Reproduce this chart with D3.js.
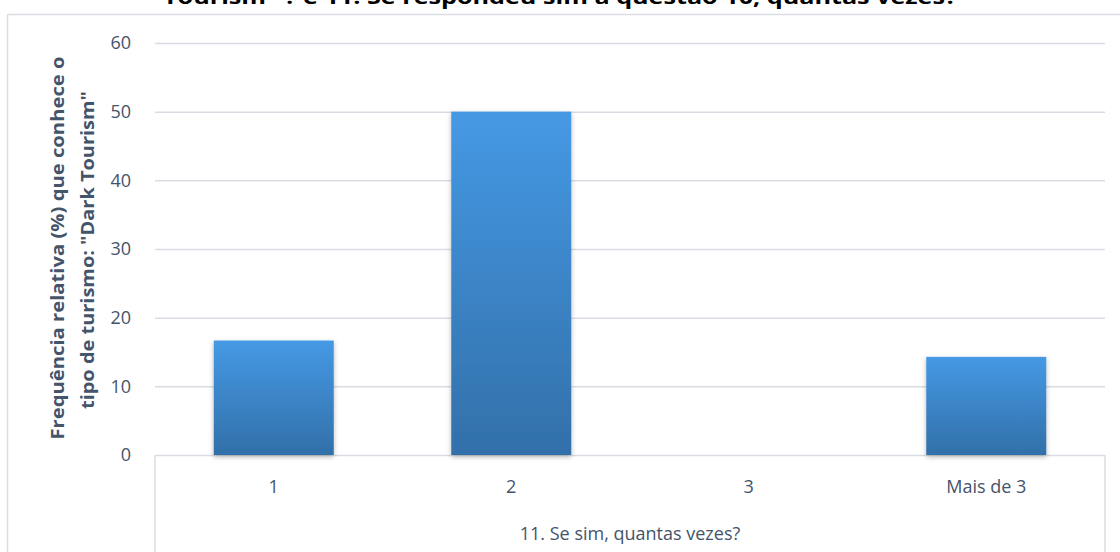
<!DOCTYPE html>
<html>
<head>
<meta charset="utf-8">
<script src="https://cdn.jsdelivr.net/npm/d3@7"></script>
<style>
  html, body { margin: 0; padding: 0; background: #fff; }
  svg { display: block; }
  text { font-family: "Open Sans", "Noto Sans", sans-serif; }
</style>
</head>
<body>
<svg id="chart" width="1120" height="552"></svg>
<script>
const categories = ["1", "2", "3", "Mais de 3"];
const values = [16.67, 50, 0, 14.29];
const yTicks = [0, 10, 20, 30, 40, 50, 60];
const titleText = 'Tourism" ?  e  11. Se respondeu sim à questão 10, quantas vezes?';
const yTitleLines = ['Frequência relativa (%) que  conhece o', 'tipo de turismo: "Dark Tourism"'];
const xGroupTitle = "11. Se sim, quantas vezes?";

const W = 1120, H = 552;
const plot = { left: 155, right: 1105, top: 43, bottom: 455 };
const svg = d3.select("#chart");

const defs = svg.append("defs");
const grad = defs.append("linearGradient").attr("id", "barGrad")
  .attr("x1", 0).attr("y1", 0).attr("x2", 0).attr("y2", 1);
grad.append("stop").attr("offset", "0%").attr("stop-color", "#4599e4");
grad.append("stop").attr("offset", "100%").attr("stop-color", "#3270a9");
const filt = defs.append("filter").attr("id", "shadow")
  .attr("x", "-10%").attr("y", "-10%").attr("width", "120%").attr("height", "125%");
filt.append("feDropShadow").attr("dx", 0).attr("dy", 2).attr("stdDeviation", 2.5)
  .attr("flood-color", "#000").attr("flood-opacity", 0.28);

// frame
const frameColor = "#d9dde3";
svg.append("line").attr("x1", 7.5).attr("x2", W).attr("y1", 14.5).attr("y2", 14.5)
  .attr("stroke", frameColor).attr("stroke-width", 1.5);
svg.append("line").attr("x1", 7.5).attr("x2", 7.5).attr("y1", 14.5).attr("y2", H)
  .attr("stroke", frameColor).attr("stroke-width", 1.5);

// title (visible last line)
svg.append("text").attr("x", 560).attr("y", 4)
  .attr("text-anchor", "middle").attr("font-weight", "bold").attr("font-size", 20)
  .attr("fill", "#000").attr("textLength", 794).attr("lengthAdjust", "spacingAndGlyphs")
  .text(titleText);

const y = d3.scaleLinear().domain([0, 60]).range([plot.bottom, plot.top]);
const x = d3.scaleBand().domain(categories).range([plot.left, plot.right])
  .paddingInner(1 - 120 / 237.5).paddingOuter((1 - 120 / 237.5) / 2);

const gridColor = "#d9dde3";
// gridlines + y tick labels via axis
const yAxis = d3.axisLeft(y).tickValues(yTicks).tickSize(-(plot.right - plot.left)).tickPadding(24)
  .tickFormat(d3.format("d"));
const gy = svg.append("g").attr("transform", `translate(${plot.left},0)`).call(yAxis);
gy.select(".domain").remove();
gy.selectAll(".tick line").attr("stroke", gridColor).attr("stroke-width", 1.5);
gy.selectAll(".tick text").attr("fill", "#44546a").attr("font-size", 18)
  .attr("font-family", '"Open Sans", sans-serif');

// x-axis table lines
svg.append("line").attr("x1", plot.left).attr("x2", plot.left).attr("y1", plot.bottom).attr("y2", H)
  .attr("stroke", gridColor).attr("stroke-width", 1.5);
svg.append("line").attr("x1", plot.right).attr("x2", plot.right).attr("y1", plot.bottom).attr("y2", H)
  .attr("stroke", gridColor).attr("stroke-width", 1.5);

// bars
svg.append("g").selectAll("rect").data(categories).join("rect")
  .attr("x", d => x(d))
  .attr("y", (d, i) => y(values[i]))
  .attr("width", x.bandwidth())
  .attr("height", (d, i) => y(0) - y(values[i]))
  .attr("fill", "url(#barGrad)")
  .attr("filter", (d, i) => values[i] > 0 ? "url(#shadow)" : null);

// category labels
const xAxis = d3.axisBottom(x).tickSize(0).tickPadding(0);
const gx = svg.append("g").attr("transform", `translate(0,${plot.bottom})`).call(xAxis);
gx.select(".domain").remove();
gx.selectAll(".tick text").attr("fill", "#44546a").attr("font-size", 18)
  .attr("font-family", '"Open Sans", sans-serif').attr("dy", null).attr("y", 38);

svg.append("text").attr("x", (plot.left + plot.right) / 2).attr("y", 540)
  .attr("text-anchor", "middle").attr("font-size", 18).attr("fill", "#44546a")
  .text(xGroupTitle);

// y title
const yt = svg.append("g").attr("transform", "translate(0,248) rotate(-90)");
yt.append("text").attr("x", 0).attr("y", 64)
  .attr("text-anchor", "middle").attr("font-weight", "bold").attr("font-size", 18)
  .attr("fill", "#44546a").attr("textLength", 383).attr("lengthAdjust", "spacingAndGlyphs")
  .text(yTitleLines[0]);
yt.append("text").attr("x", -2).attr("y", 94)
  .attr("text-anchor", "middle").attr("font-weight", "bold").attr("font-size", 18)
  .attr("fill", "#44546a").attr("textLength", 318).attr("lengthAdjust", "spacingAndGlyphs")
  .text(yTitleLines[1]);
</script>
</body>
</html>
